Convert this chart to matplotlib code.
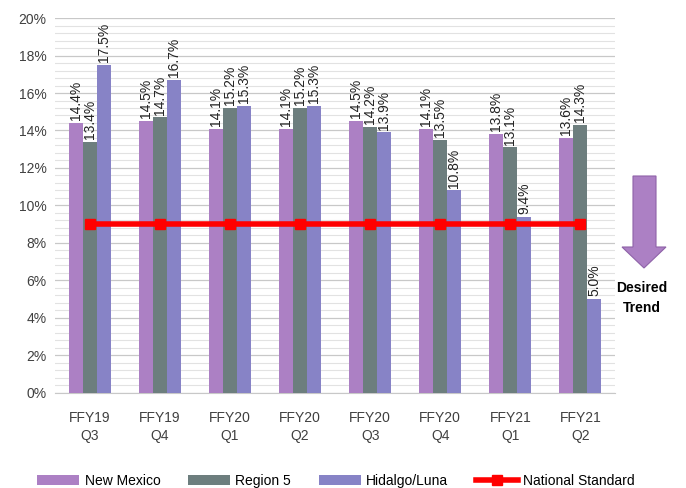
import matplotlib
matplotlib.use("Agg")
import matplotlib.pyplot as plt
import numpy as np
from matplotlib.patches import Polygon
from matplotlib.ticker import MultipleLocator, FuncFormatter

plt.rcParams.update({"font.family": "Liberation Sans", "font.size": 10})

quarters = ["FFY19\nQ3", "FFY19\nQ4", "FFY20\nQ1", "FFY20\nQ2",
            "FFY20\nQ3", "FFY20\nQ4", "FFY21\nQ1", "FFY21\nQ2"]
new_mexico = [14.4, 14.5, 14.1, 14.1, 14.5, 14.1, 13.8, 13.6]
region5 = [13.4, 14.7, 15.2, 15.2, 14.2, 13.5, 13.1, 14.3]
hidalgo = [17.5, 16.7, 15.3, 15.3, 13.9, 10.8, 9.4, 5.0]
national = [9.0] * 8

colors = ["#AC80C4", "#6D7E7E", "#8783C6"]
names = ["New Mexico", "Region 5", "Hidalgo/Luna"]

fig = plt.figure(figsize=(6.86, 4.88), dpi=100)
ax = fig.add_axes([0.080, 0.195, 0.817, 0.768])

x = np.arange(len(quarters))
w = 0.2
for i, (vals, c, n) in enumerate(zip([new_mexico, region5, hidalgo], colors, names)):
    xs = x + (i - 1) * w
    ax.bar(xs, vals, w, color=c, label=n, zorder=3)
    for xi, v in zip(xs, vals):
        ax.text(xi, v + 0.15, "%.1f%%" % v, rotation=90, ha="center", va="bottom",
                fontsize=10, color="#222222", zorder=4)

ax.plot(x, national, color="#FF0000", linewidth=4, marker="s", markersize=7,
        label="National Standard", zorder=5)

ax.set_xlim(-0.5, len(quarters) - 0.5)
ax.set_ylim(0, 20)
ax.yaxis.set_major_locator(MultipleLocator(2))
ax.yaxis.set_minor_locator(MultipleLocator(0.4))
ax.yaxis.set_major_formatter(FuncFormatter(lambda v, p: "%d%%" % v))
ax.grid(axis="y", which="major", color="#C8C8C8", linewidth=0.9, zorder=0)
ax.grid(axis="y", which="minor", color="#E2E2E2", linewidth=0.8, zorder=0)
ax.set_xticks(x)
ax.set_xticklabels(quarters, linespacing=1.4)
ax.tick_params(axis="both", which="both", length=0, colors="#404040", labelsize=10)
ax.tick_params(axis="x", pad=13)
ax.tick_params(axis="y", pad=6)
for s in ["top", "right", "left"]:
    ax.spines[s].set_visible(False)
ax.spines["bottom"].set_color("#C8C8C8")

# desired-trend arrow (pixel coordinates converted to figure fraction)
W, H = 686, 488
pts = [(633, 176), (656, 176), (656, 247), (666, 247), (644, 268), (622, 247), (633, 247)]
fig.patches.append(Polygon([(px / W, 1 - py / H) for px, py in pts], closed=True,
                           facecolor="#AC80C4", edgecolor="#8E62A8", linewidth=0.8,
                           transform=fig.transFigure))
fig.text(642 / W, 1 - 298 / H, "Desired\nTrend", ha="center", va="center",
         fontsize=10, fontweight="bold", linespacing=1.5)

handles, labels = ax.get_legend_handles_labels()
order = [1, 2, 3, 0]
fig.legend([handles[k] for k in order], [labels[k] for k in order],
           loc="lower center", ncol=4, frameon=False, bbox_to_anchor=(0.49, -0.025),
           handlelength=3.0, handleheight=0.7, handletextpad=0.4, columnspacing=2.0,
           fontsize=10)

fig.savefig("out.png", dpi=100)
